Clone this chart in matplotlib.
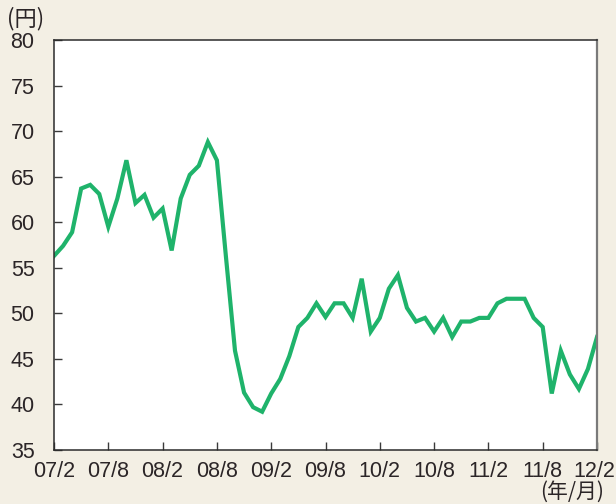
import numpy as np
import matplotlib.pyplot as plt
from matplotlib.transforms import ScaledTranslation

# 月次データ (07/2 〜 12/2)
months = np.arange(61)
price = [56.3, 57.4, 58.9, 63.7, 64.1, 63.1, 59.5, 62.6, 66.8, 62.1,
         63.0, 60.5, 61.5, 56.9, 62.6, 65.2, 66.2, 68.8, 66.8, 56.2,
         45.9, 41.3, 39.7, 39.2, 41.2, 42.8, 45.3, 48.5, 49.5, 51.1,
         49.6, 51.1, 51.1, 49.5, 53.8, 48.0, 49.5, 52.7, 54.2, 50.6,
         49.1, 49.5, 48.0, 49.5, 47.4, 49.1, 49.1, 49.5, 49.5, 51.1,
         51.6, 51.6, 51.6, 49.5, 48.5, 41.2, 45.9, 43.3, 41.7, 43.9,
         47.4]
tick_pos = np.arange(0, 61, 6)
tick_labels = ['07/2', '07/8', '08/2', '08/8', '09/2', '09/8',
               '10/2', '10/8', '11/2', '11/8', '12/2']
y_ticks = [35, 40, 45, 50, 55, 60, 65, 70, 75, 80]

bg = '#f3efe4'
txt = '#2b2527'
plt.rcParams['font.family'] = ['Liberation Sans', 'Noto Sans CJK JP', 'DejaVu Sans']

fig = plt.figure(figsize=(6.16, 5.04), dpi=100, facecolor=bg)
ax = fig.add_axes([54/616, 1-450/504, (597-54)/616, (450-40)/504])
ax.set_facecolor('white')

ax.plot(months, price, color='#1fb36b', linewidth=3.0, solid_joinstyle='miter')

ax.set_xlim(0, 60)
ax.set_ylim(35, 80)
ax.set_xticks(tick_pos)
ax.set_xticklabels(tick_labels)
ax.set_yticks(y_ticks)
ax.tick_params(direction='in', length=6, width=1.0, color='#3a3a3a',
               labelsize=15.5, labelcolor=txt)
ax.tick_params(axis='x', pad=8)
ax.tick_params(axis='y', pad=14)
for lbl in ax.get_yticklabels():
    lbl.set_horizontalalignment('right')
# 右端のラベルを少し内側へ
last = ax.get_xticklabels()[-1]
last.set_transform(last.get_transform() + ScaledTranslation(-3/100, 0, fig.dpi_scale_trans))

for s in ['left', 'bottom', 'top']:
    ax.spines[s].set_color('#2b2b2b')
    ax.spines[s].set_linewidth(1.1)
ax.spines['right'].set_color('#7a7a7a')
ax.spines['right'].set_linewidth(1.6)

fig.text(7/616, 1-19/504, '(円)', fontsize=16, color=txt,
         family=['Noto Sans CJK JP'], va='center', ha='left')
fig.text(572/616, 1-492/504, '(年/月)', fontsize=15, color=txt,
         family=['Noto Sans CJK JP'], va='center', ha='center')

fig.savefig('out.png', dpi=100, facecolor=bg)
